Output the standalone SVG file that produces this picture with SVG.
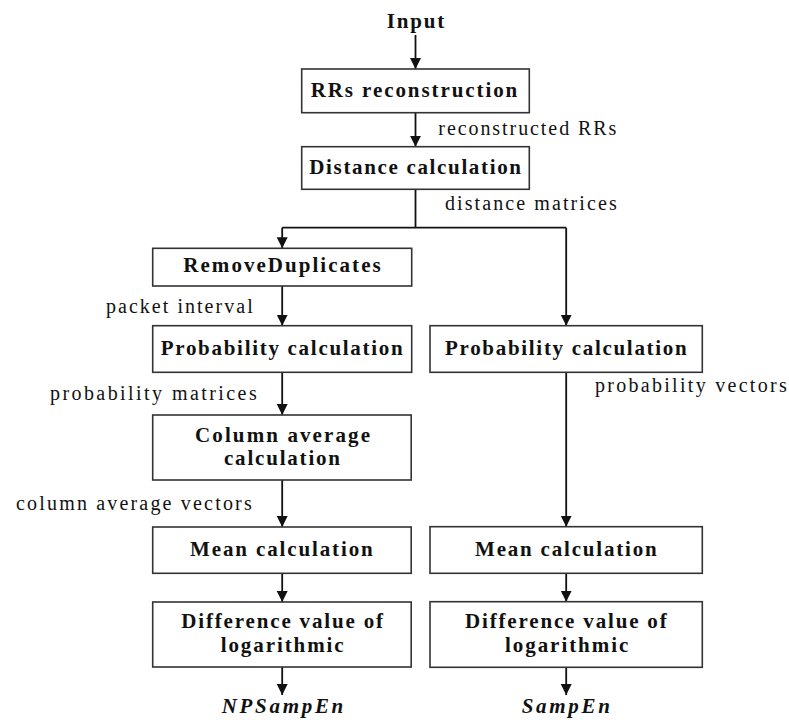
<svg xmlns="http://www.w3.org/2000/svg" width="789" height="720" viewBox="0 0 789 720">
<style>
.box{fill:#fff;stroke:#333;stroke-width:1.6}
.b{font-family:"Liberation Serif","Times New Roman",serif;font-weight:bold;font-size:21px;fill:#111}
.n{font-family:"Liberation Serif","Times New Roman",serif;font-size:20px;fill:#111}
.bi{font-family:"Liberation Serif","Times New Roman",serif;font-weight:bold;font-style:italic;font-size:21px;fill:#111}
.ln{fill:none;stroke:#111;stroke-width:1.8}
.ar{fill:none;stroke:#111;stroke-width:1.8;marker-end:url(#ah)}
</style>
<defs>
<marker id="ah" markerUnits="userSpaceOnUse" markerWidth="12" markerHeight="12" viewBox="0 0 12 12" refX="11" refY="6" orient="auto">
<path d="M0,0.5 L11,6 L0,11.5 z" fill="#111"/>
</marker>
</defs>
<rect width="789" height="720" fill="#fff"/>
<g id="connectors">
<path class="ar" d="M415.5,35 V69"/>
<path class="ar" d="M415.5,112.7 V146.7"/>
<path class="ln" d="M415.5,189.3 V227.7 M282.2,227.7 H566.2"/>
<path class="ar" d="M282.2,227.7 V248.3"/>
<path class="ar" d="M566.2,227.7 V325.7"/>
<path class="ar" d="M282.2,286 V325.7"/>
<path class="ar" d="M282.2,372.3 V415"/>
<path class="ar" d="M282.2,480 V527"/>
<path class="ar" d="M282.2,573.3 V602"/>
<path class="ar" d="M282.2,667 V695"/>
<path class="ar" d="M566.2,372.3 V526.7"/>
<path class="ar" d="M566.2,573.3 V601.7"/>
<path class="ar" d="M566.2,667.3 V695"/>
</g>
<g id="input"><text class="b" x="386.7" y="28" textLength="57.6">Input</text></g>
<g id="rrs-reconstruction">
<rect class="box" x="301.7" y="69" width="227.6" height="43.7"/>
<text class="b" x="310.7" y="97" textLength="206.6">RRs reconstruction</text>
</g>
<g id="label-reconstructed"><text class="n" x="438.3" y="135" textLength="178">reconstructed RRs</text></g>
<g id="distance-calculation">
<rect class="box" x="301.7" y="146.7" width="227.6" height="42.6"/>
<text class="b" x="309.3" y="173.5" textLength="211.7">Distance calculation</text>
</g>
<g id="label-distance"><text class="n" x="445" y="210" textLength="171.7">distance matrices</text></g>
<g id="remove-duplicates">
<rect class="box" x="152.7" y="248.3" width="259" height="37.7"/>
<text class="b" x="183.3" y="271.7" textLength="197.4">RemoveDuplicates</text>
</g>
<g id="label-packet"><text class="n" x="106" y="313" textLength="146.7">packet interval</text></g>
<g id="probability-left">
<rect class="box" x="152.7" y="325.7" width="259" height="46.6"/>
<text class="b" x="160.7" y="355" textLength="242">Probability calculation</text>
</g>
<g id="probability-right">
<rect class="box" x="430" y="325.7" width="272.3" height="46.6"/>
<text class="b" x="445" y="355" textLength="241.7">Probability calculation</text>
</g>
<g id="label-prob-matrices"><text class="n" x="50" y="400" textLength="206.7">probability  matrices</text></g>
<g id="label-prob-vectors"><text class="n" x="595" y="391.7" textLength="191.7">probability  vectors</text></g>
<g id="column-average">
<rect class="box" x="152.7" y="415" width="258.5" height="65"/>
<text class="b" x="195" y="442.3" textLength="175">Column average</text>
<text class="b" x="224" y="465" textLength="116">calculation</text>
</g>
<g id="label-col-vectors"><text class="n" x="16" y="510" textLength="235.7">column average vectors</text></g>
<g id="mean-left">
<rect class="box" x="152.7" y="527" width="258.5" height="46.3"/>
<text class="b" x="190" y="555.7" textLength="182.7">Mean calculation</text>
</g>
<g id="mean-right">
<rect class="box" x="430" y="526.7" width="272.3" height="46.6"/>
<text class="b" x="475" y="555.7" textLength="181.7">Mean calculation</text>
</g>
<g id="difference-left">
<rect class="box" x="152.7" y="602" width="258.5" height="65"/>
<text class="b" x="181.3" y="628.3" textLength="201.7">Difference value of</text>
<text class="b" x="220.7" y="651.7" textLength="123">logarithmic</text>
</g>
<g id="difference-right">
<rect class="box" x="430" y="601.7" width="272.3" height="65.6"/>
<text class="b" x="465" y="628.3" textLength="201.7">Difference value of</text>
<text class="b" x="505" y="651.7" textLength="123.3">logarithmic</text>
</g>
<g id="npsampen"><text class="bi" x="221.7" y="713" textLength="121.6">NPSampEn</text></g>
<g id="sampen"><text class="bi" x="521.7" y="713" textLength="88.3">SampEn</text></g>
</svg>
